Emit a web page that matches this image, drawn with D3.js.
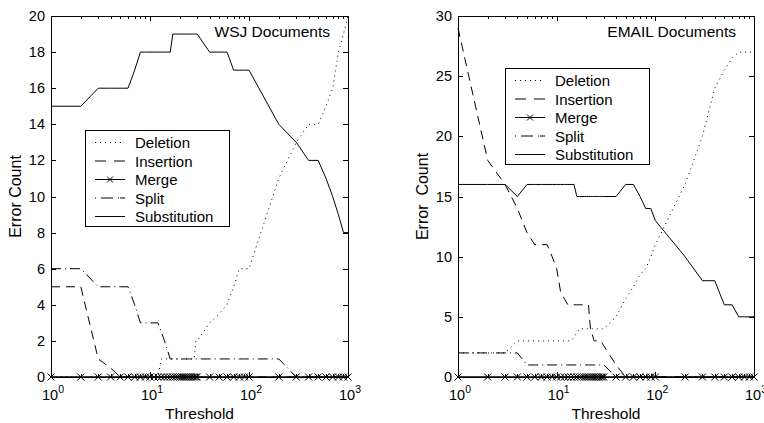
<!DOCTYPE html>
<html><head><meta charset="utf-8">
<script src="https://cdn.jsdelivr.net/npm/d3@7"></script>
<style>
html,body{margin:0;padding:0;background:#fff;}
svg text{font-family:"Liberation Sans",Arial,Helvetica,sans-serif;fill:#000;}
</style></head>
<body><svg id="chart" width="764" height="423"></svg>
<script>
// ---- data ----
const thresholds = [1,2,3,4,5,6,7,8,9,
  10,11,12,13,14,15,16,17,18,19,20,21,22,23,24,25,26,27,28,29,30,
  40,50,60,70,80,90,100,
  200,300,400,500,600,700,800,900,1000];

const seriesNames = ["Deletion","Insertion","Merge","Split","Substitution"];

// WSJ Documents
const wsjDeletion = [0,0,0,0,0,0,0,0,0,
  0,0,0,1,1,1,1,1,1,1,1,1,1,1,1,1,1,1,1,2,2,
  3,3.5,4,5,6,6,6,
  11,13,14,14,15,16,18,19,20];
const wsjInsertion = [5,5,1,0.5,0,0,0,0,0,
  0,0,0,0,0,0,0,0,0,0,0,0,0,0,0,0,0,0,0,0,0,
  0,0,0,0,0,0,0,
  0,0,0,0,0,0,0,0,0];
const wsjMerge = [0,0,0,0,0,0,0,0,0,
  0,0,0,0,0,0,0,0,0,0,0,0,0,0,0,0,0,0,0,0,0,
  0,0,0,0,0,0,0,
  0,0,0,0,0,0,0,0,0];
const wsjSplit = [6,6,5,5,5,5,4,3,3,
  3,3,3,2.5,2,1.5,1,1,1,1,1,1,1,1,1,1,1,1,1,1,1,
  1,1,1,1,1,1,1,
  1,0,0,0,0,0,0,0,0];
const wsjSubstitution = [15,15,16,16,16,16,17,18,18,
  18,18,18,18,18,18,18,19,19,19,19,19,19,19,19,19,19,19,19,19,19,
  18,18,18,17,17,17,17,
  14,13,12,12,11,10,9,8,8];

// EMAIL Documents
const emailDeletion = [2,2,2,3,3,3,3,3,3,
  3,3,3,3,3,3.3,3.7,4,4,4,4,4,4,4,4,4,4,4,4,4,4,
  5,6.5,7.5,8.5,9,10,11,
  16,20,24,25.5,26.5,27,27,27,27];
const emailInsertion = [29,18,16,14,12,11,11,11,10,
  9,7,6.5,6,6,6,6,6,6,6,6,6,4,3.5,3,3,3,3,3,2.8,2.6,
  1,0,0,0,0,0,0,
  0,0,0,0,0,0,0,0,0];
const emailMerge = [0,0,0,0,0,0,0,0,0,
  0,0,0,0,0,0,0,0,0,0,0,0,0,0,0,0,0,0,0,0,0,
  0,0,0,0,0,0,0,
  0,0,0,0,0,0,0,0,0];
const emailSplit = [2,2,2,2,1,1,1,1,1,
  1,1,1,1,1,1,1,1,1,1,1,1,1,1,1,1,1,1,1,1,1,
  0,0,0,0,0,0,0,
  0,0,0,0,0,0,0,0,0];
const emailSubstitution = [16,16,16,15,16,16,16,16,16,
  16,16,16,16,16,16,15,15,15,15,15,15,15,15,15,15,15,15,15,15,15,
  15,16,16,15,14,14,13,
  10,8,8,6,6,5,5,5,5];

const wsjYTicks = [0,2,4,6,8,10,12,14,16,18,20];
const emailYTicks = [0,5,10,15,20,25,30];
const xDecades = [1,10,100,1000];
const xTickExponents = ["0","1","2","3"];

// ---- styles ----
const dashStyles = {
  Deletion: "1,4",
  Insertion: "9,6",
  Merge: null,
  Split: "10,4,1,4",
  Substitution: null
};

const svg = d3.select("#chart");
svg.append("rect").attr("width",764).attr("height",423).attr("fill","#fff");

function panel(cfg) {
  const g = svg.append("g");
  const x = d3.scaleLog().domain([1,1000]).range([cfg.left, cfg.right]);
  const y = d3.scaleLinear().domain([0, cfg.yMax]).range([cfg.bottom, cfg.top]);

  // box
  g.append("rect").attr("x",cfg.left).attr("y",cfg.top)
    .attr("width",cfg.right-cfg.left).attr("height",cfg.bottom-cfg.top)
    .attr("fill","none").attr("stroke","#000").attr("stroke-width",1)
    .attr("shape-rendering","crispEdges");

  // y ticks (both sides, inward)
  cfg.yTicks.forEach(v => {
    const yy = Math.round(y(v)) + 0.5;
    g.append("line").attr("x1",cfg.left).attr("x2",cfg.left+5).attr("y1",yy).attr("y2",yy)
      .attr("stroke","#000").attr("stroke-width",1);
    g.append("line").attr("x1",cfg.right).attr("x2",cfg.right-5).attr("y1",yy).attr("y2",yy)
      .attr("stroke","#000").attr("stroke-width",1);
    g.append("text").attr("x",cfg.left-6).attr("y",y(v)+5)
      .attr("text-anchor","end").attr("font-size","14.5px").text(v);
  });

  // x ticks major + minor
  const minor = [];
  xDecades.forEach((d,i) => {
    if (i < xDecades.length-1) for (let k=2;k<=9;k++) minor.push(d*k);
  });
  minor.forEach(t => {
    const xx = Math.round(x(t)) + 0.5;
    g.append("line").attr("x1",xx).attr("x2",xx).attr("y1",cfg.bottom).attr("y2",cfg.bottom-3)
      .attr("stroke","#000").attr("stroke-width",1);
    g.append("line").attr("x1",xx).attr("x2",xx).attr("y1",cfg.top).attr("y2",cfg.top+3)
      .attr("stroke","#000").attr("stroke-width",1);
  });
  xDecades.forEach((t,i) => {
    const xx = Math.round(x(t)) + 0.5;
    g.append("line").attr("x1",xx).attr("x2",xx).attr("y1",cfg.bottom).attr("y2",cfg.bottom-5)
      .attr("stroke","#000").attr("stroke-width",1);
    g.append("line").attr("x1",xx).attr("x2",xx).attr("y1",cfg.top).attr("y2",cfg.top+5)
      .attr("stroke","#000").attr("stroke-width",1);
    const tx = g.append("text").attr("x",x(t)+2).attr("y",cfg.bottom+23)
      .attr("text-anchor","middle").attr("font-size","14.5px");
    tx.append("tspan").text("10");
    tx.append("tspan").attr("dy",-7).attr("font-size","10.5px").text(xTickExponents[i]);
  });

  // axis labels
  g.append("text").attr("x",(cfg.left+cfg.right)/2).attr("y",419)
    .attr("text-anchor","middle").attr("font-size","15.5px").text("Threshold");
  g.append("text").attr("transform",`translate(${cfg.left-30},${(cfg.top+cfg.bottom)/2}) rotate(-90)`)
    .attr("text-anchor","middle").attr("font-size","16px").style("white-space","pre").text(cfg.ylabel);

  // title inside
  g.append("text").attr("x",cfg.right-18).attr("y",cfg.top+21)
    .attr("text-anchor","end").attr("font-size","15.5px").text(cfg.title);

  // series
  const line = d3.line().x(d=>x(d.t)).y(d=>y(d.v));
  const order = ["Deletion","Insertion","Split","Substitution","Merge"];
  order.forEach(name => {
    const vals = cfg.series[name];
    const pts = thresholds.map((t,i)=>({t:t, v:vals[i]}));
    const p = g.append("path").attr("d",line(pts)).attr("fill","none")
      .attr("stroke","#000").attr("stroke-width", name==="Merge"?1.5:1);
    if (dashStyles[name]) p.attr("stroke-dasharray",dashStyles[name]);
    if (name==="Merge") {
      g.selectAll(null).data(pts).enter().append("path")
        .attr("transform",d=>`translate(${x(d.t)},${y(d.v)})`)
        .attr("d","M-3.5,-3.5L3.5,3.5M-3.5,3.5L3.5,-3.5")
        .attr("stroke","#000").attr("stroke-width",1).attr("fill","none");
    }
  });

  // legend
  const L = cfg.legend;
  const lg = g.append("g");
  lg.append("rect").attr("x",L.x+0.5).attr("y",L.y+0.5).attr("width",144).attr("height",96)
    .attr("fill","#fff").attr("stroke","#000").attr("stroke-width",1);
  seriesNames.forEach((name,i) => {
    const yy = L.y + 12.5 + i*18.5;
    const s = lg.append("line").attr("x1",L.x+10).attr("x2",L.x+40).attr("y1",yy).attr("y2",yy)
      .attr("stroke","#000").attr("stroke-width",1);
    if (dashStyles[name]) s.attr("stroke-dasharray", name==="Insertion" ? "11,8" : (name==="Split" ? "1,5,12,5,1" : "1,4"));
    if (name==="Merge") {
      lg.append("path").attr("transform",`translate(${L.x+25},${yy})`)
        .attr("d","M-3,-3L3,3M-3,3L3,-3").attr("stroke","#000").attr("stroke-width",1);
    }
    lg.append("text").attr("x",L.x+50).attr("y",yy+5.5).attr("font-size","15px").text(name);
  });
}

panel({
  left:51, right:348, top:16, bottom:377, yMax:20, yTicks:wsjYTicks,
  title:"WSJ Documents", ylabel:"Error Count",
  legend:{x:85, y:130},
  series:{Deletion:wsjDeletion, Insertion:wsjInsertion, Merge:wsjMerge, Split:wsjSplit, Substitution:wsjSubstitution}
});
panel({
  left:458, right:754, top:16, bottom:377, yMax:30, yTicks:emailYTicks,
  title:"EMAIL Documents", ylabel:"Error\u00a0 Count",
  legend:{x:505, y:68},
  series:{Deletion:emailDeletion, Insertion:emailInsertion, Merge:emailMerge, Split:emailSplit, Substitution:emailSubstitution}
});
</script></body></html>
